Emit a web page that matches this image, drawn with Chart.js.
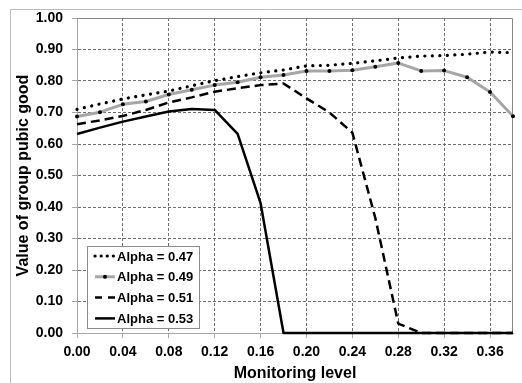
<!DOCTYPE html>
<html>
<head>
<meta charset="utf-8">
<script src="https://cdn.jsdelivr.net/npm/chart.js@4.4.0/dist/chart.umd.min.js"></script>
<style>
    html, body { margin: 0; padding: 0; background: #fff; }
    #wrap { width: 522px; height: 383px; }
</style>
</head>
<body>
<div id="wrap"><canvas id="mainChart" width="522" height="383"></canvas></div>
<script>
// monitoring level (x) and group public good value per alpha
const monitoringLevels = [0.00, 0.02, 0.04, 0.06, 0.08, 0.10, 0.12, 0.14, 0.16, 0.18,
                          0.20, 0.22, 0.24, 0.26, 0.28, 0.30, 0.32, 0.34, 0.36, 0.38];
const alpha047 = [0.710, 0.727, 0.743, 0.756, 0.768, 0.785, 0.801, 0.814, 0.826, 0.835,
                  0.848, 0.850, 0.856, 0.864, 0.873, 0.879, 0.881, 0.885, 0.892, 0.890];
const alpha049 = [0.687, 0.701, 0.726, 0.735, 0.757, 0.772, 0.787, 0.796, 0.812, 0.819,
                  0.832, 0.832, 0.834, 0.845, 0.857, 0.832, 0.833, 0.812, 0.765, 0.688];
const alpha051 = [0.663, 0.675, 0.689, 0.708, 0.732, 0.748, 0.766, 0.777, 0.787, 0.792,
                  0.745, 0.700, 0.636, 0.365, 0.030, 0.000, 0.000, 0.000, 0.000, 0.000];
const alpha053 = [0.632, 0.652, 0.671, 0.687, 0.703, 0.711, 0.708, 0.632, 0.412, 0.000,
                  0.000, 0.000, 0.000, 0.000, 0.000, 0.000, 0.000, 0.000, 0.000, 0.000];
const seriesLabels = ['Alpha = 0.47', 'Alpha = 0.49', 'Alpha = 0.51', 'Alpha = 0.53'];
const xTicks = [0.00, 0.04, 0.08, 0.12, 0.16, 0.20, 0.24, 0.28, 0.32, 0.36];

const FONT = "'Liberation Sans', Arial, sans-serif";

function toPoints(values) {
    return values.map((v, i) => ({ x: monitoringLevels[i], y: v }));
}

// white page + light outer frame (top and left edge visible)
const framePlugin = {
    id: 'frame',
    beforeDraw(chart) {
        const ctx = chart.ctx;
        ctx.save();
        ctx.fillStyle = '#fff';
        ctx.fillRect(0, 0, chart.width, chart.height);
        ctx.strokeStyle = '#bdbdbd';
        ctx.lineWidth = 1;
        ctx.beginPath();
        ctx.moveTo(10.5, chart.height);
        ctx.lineTo(10.5, 9.5);
        ctx.lineTo(chart.width, 9.5);
        ctx.stroke();
        ctx.restore();
    },
    beforeDatasetsDraw(chart) {
        const a = chart.chartArea;
        const ctx = chart.ctx;
        ctx.save();
        ctx.strokeStyle = '#868686';
        ctx.lineWidth = 1;
        ctx.beginPath();
        ctx.moveTo(a.left, a.top + 0.5);
        ctx.lineTo(a.right - 0.5, a.top + 0.5);
        ctx.lineTo(a.right - 0.5, a.bottom);
        ctx.stroke();
        ctx.restore();
    }
};

// boxed legend inside the plot, lower left
const boxLegendPlugin = {
    id: 'boxLegend',
    afterDraw(chart) {
        const ctx = chart.ctx;
        const bx = 87, by = 246, bw = 112, bh = 82;
        ctx.save();
        ctx.fillStyle = '#fff';
        ctx.fillRect(bx, by, bw, bh);
        ctx.strokeStyle = '#8c8c8c';
        ctx.lineWidth = 1;
        ctx.strokeRect(bx + 0.5, by + 0.5, bw, bh);

        chart.data.datasets.forEach((ds, i) => {
            const y = by + 10 + i * 20.8;
            ctx.save();
            ctx.strokeStyle = ds.borderColor;
            ctx.lineWidth = ds.borderWidth;
            ctx.lineCap = ds.borderCapStyle || 'butt';
            ctx.setLineDash(ds.legendDash || ds.borderDash || []);
            ctx.beginPath();
            ctx.moveTo(95, y);
            ctx.lineTo(115, y);
            ctx.stroke();
            if (ds.pointRadius > 0) {
                ctx.setLineDash([]);
                ctx.fillStyle = ds.pointBackgroundColor;
                ctx.beginPath();
                ctx.arc(105, y, ds.pointRadius, 0, Math.PI * 2);
                ctx.fill();
            }
            ctx.restore();
            ctx.fillStyle = '#000';
            ctx.font = 'bold 13px ' + FONT;
            ctx.textBaseline = 'middle';
            ctx.textAlign = 'left';
            ctx.fillText(ds.label, 117, y + 1);
        });
        ctx.restore();
    }
};

const gridColor = c => (c.tick && c.tick.value === 0) ? 'rgba(0,0,0,0)' : '#6e6e6e';

const ctx = document.getElementById('mainChart').getContext('2d');
const chart = new Chart(ctx, {
    type: 'line',
    data: {
        datasets: [{
            label: seriesLabels[0],
            data: toPoints(alpha047),
            borderColor: '#000',
            borderWidth: 3.2,
            borderDash: [0.1, 7.4],
            borderCapStyle: 'round',
            legendDash: [0.1, 6],
            pointRadius: 0,
            order: 3
        }, {
            label: seriesLabels[1],
            data: toPoints(alpha049),
            borderColor: '#a6a6a6',
            borderWidth: 3,
            pointRadius: 2,
            pointBorderWidth: 0,
            pointBackgroundColor: '#000',
            order: 2
        }, {
            label: seriesLabels[2],
            data: toPoints(alpha051),
            borderColor: '#000',
            borderWidth: 2.5,
            borderDash: [9, 5],
            legendDash: [7, 6],
            pointRadius: 0,
            order: 1
        }, {
            label: seriesLabels[3],
            data: toPoints(alpha053),
            borderColor: '#000',
            borderWidth: 2.5,
            pointRadius: 0,
            order: 0
        }]
    },
    options: {
        responsive: false,
        animation: false,
        devicePixelRatio: 1,
        clip: false,
        layout: {
            padding: { left: 0, top: 18, right: 9, bottom: 0 }
        },
        elements: {
            line: { tension: 0, borderJoinStyle: 'round' }
        },
        plugins: {
            legend: { display: false },
            tooltip: { enabled: false },
            title: { display: false }
        },
        scales: {
            x: {
                type: 'linear',
                min: 0,
                max: 0.38,
                afterFit: s => { s.height = 50; },
                afterBuildTicks: s => { s.ticks = xTicks.map(v => ({ value: v })); },
                ticks: {
                    callback: v => v.toFixed(2),
                    color: '#000',
                    padding: 6,
                    maxRotation: 0,
                    font: { family: FONT, size: 14, weight: 'bold' }
                },
                grid: {
                    color: gridColor,
                    lineWidth: 1,
                    tickLength: 5,
                    tickColor: '#a6a6a6'
                },
                border: { display: true, color: '#a6a6a6', width: 1, dash: [3, 2] },
                title: {
                    display: true,
                    text: 'Monitoring level',
                    color: '#000',
                    padding: { top: 0, bottom: 0 },
                    font: { family: FONT, size: 16, weight: 'bold' }
                }
            },
            y: {
                min: 0,
                max: 1,
                afterFit: s => { s.width = 77; },
                ticks: {
                    stepSize: 0.1,
                    callback: v => v.toFixed(2),
                    color: '#000',
                    padding: 9,
                    font: { family: FONT, size: 14, weight: 'bold' }
                },
                grid: {
                    color: gridColor,
                    lineWidth: 1,
                    tickLength: 5,
                    tickColor: '#a6a6a6'
                },
                border: { display: true, color: '#a6a6a6', width: 1, dash: [3, 2] },
                title: {
                    display: true,
                    text: 'Value of group pubic good',
                    color: '#000',
                    padding: { top: 14, bottom: 0 },
                    font: { family: FONT, size: 16, weight: 'bold' }
                }
            }
        }
    },
    plugins: [framePlugin, boxLegendPlugin]
});
</script>
</body>
</html>
